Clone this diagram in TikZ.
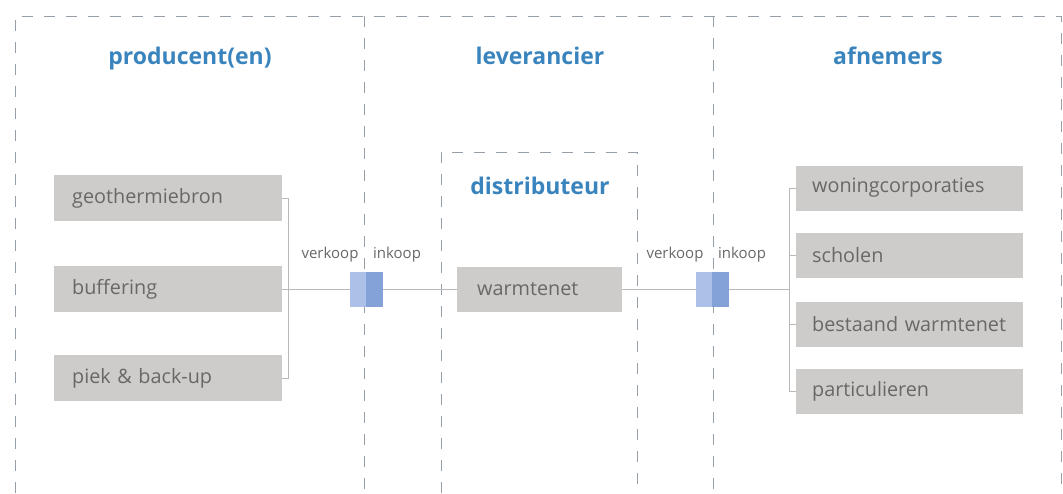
\documentclass[tikz,border=0pt]{standalone}
\usepackage{fontspec}
\setmainfont{Open Sans}
\definecolor{boxgrey}{RGB}{206,203,203}
\definecolor{textgrey}{RGB}{105,103,103}
\definecolor{headblue}{RGB}{58,132,190}
\definecolor{dashgrey}{RGB}{150,158,168}
\definecolor{linegrey}{RGB}{185,185,185}
\definecolor{sqlight}{RGB}{172,192,232}
\definecolor{sqdark}{RGB}{132,162,216}
\begin{document}
\begin{tikzpicture}[x=1pt,y=-1pt,
  frame/.style={draw=dashgrey,line width=0.9pt,dash pattern=on 11pt off 11pt},
  head/.style={text=headblue,font=\fontsize{23}{25}\selectfont\bfseries,inner sep=0pt,anchor=base},
  lbox/.style={fill=boxgrey,text=textgrey,font=\fontsize{19.8}{21}\selectfont,minimum height=46pt,inner ysep=0pt,align=left,anchor=west},
  pbox/.style={lbox,text width=192pt,inner xsep=18pt},
  abox/.style={lbox,text width=195pt,inner xsep=16pt,minimum height=45pt},
  wbox/.style={lbox,text width=125pt,inner xsep=20pt,minimum height=45pt},
  sqa/.style={fill=sqlight,minimum width=16pt,minimum height=35pt,inner sep=0pt,anchor=east},
  sqb/.style={fill=sqdark,minimum width=17pt,minimum height=35pt,inner sep=0pt,anchor=west},
  small/.style={text=textgrey,font=\fontsize{15}{17}\selectfont,inner sep=0pt,anchor=base},
  conn/.style={draw=linegrey,line width=0.9pt}]
\useasboundingbox (0,0) rectangle (1063,493);
% frame
\draw[frame] (15,493) -- (15,16) -- (1061,16) -- (1061,493);
\draw[frame] (364,16) -- (364,493);
\draw[frame] (713,16) -- (713,493);
\draw[frame] (441,493) -- (441,152) -- (637,152) -- (637,493);
% headings
\node[head] (hp) at (190,64) {producent(en)};
\node[head] (hl) at (540,64) {leverancier};
\node[head] (ha) at (888,64) {afnemers};
\node[head] (hd) at (540,194) {distributeur};
% producers
\node[pbox] (geo) at (54,198) {geothermiebron};
\node[pbox] (buf) at (54,289) {buffering};
\node[pbox] (piek) at (54,378) {piek \& back-up};
% squares
\node[sqa] (s1a) at (366,289) {};
\node[sqb] (s1b) at (366,289) {};
\node[sqa] (s2a) at (712,289) {};
\node[sqb] (s2b) at (712,289) {};
% labels
\node[small] (v1) at (330,258) {verkoop};
\node[small] (i1) at (397,258) {inkoop};
\node[small] (v2) at (675,258) {verkoop};
\node[small] (i2) at (742,258) {inkoop};
% distributor
\node[wbox] (warm) at (457,289) {warmtenet};
% consumers
\node[abox] (won) at (796,188) {woningcorporaties};
\node[abox] (sch) at (796,255.5) {scholen};
\node[abox] (bes) at (796,324) {bestaand warmtenet};
\node[abox] (par) at (796,391.5) {particulieren};
% connectors
\draw[conn] (geo.east) -- ++(6,0) |- (piek.east);
\draw[conn] (buf.east) -- (s1a.west);
\draw[conn] (s1b.east) -- (warm.west);
\draw[conn] (warm.east) -- (s2a.west);
\coordinate (rb) at (789,289);
\draw[conn] (s2b.east) -- (rb);
\draw[conn] (won.west) -- ++(-7,0) |- (par.west);
\draw[conn] (sch.west) -- ++(-7,0);
\draw[conn] (bes.west) -- ++(-7,0);
\end{tikzpicture}
\end{document}
